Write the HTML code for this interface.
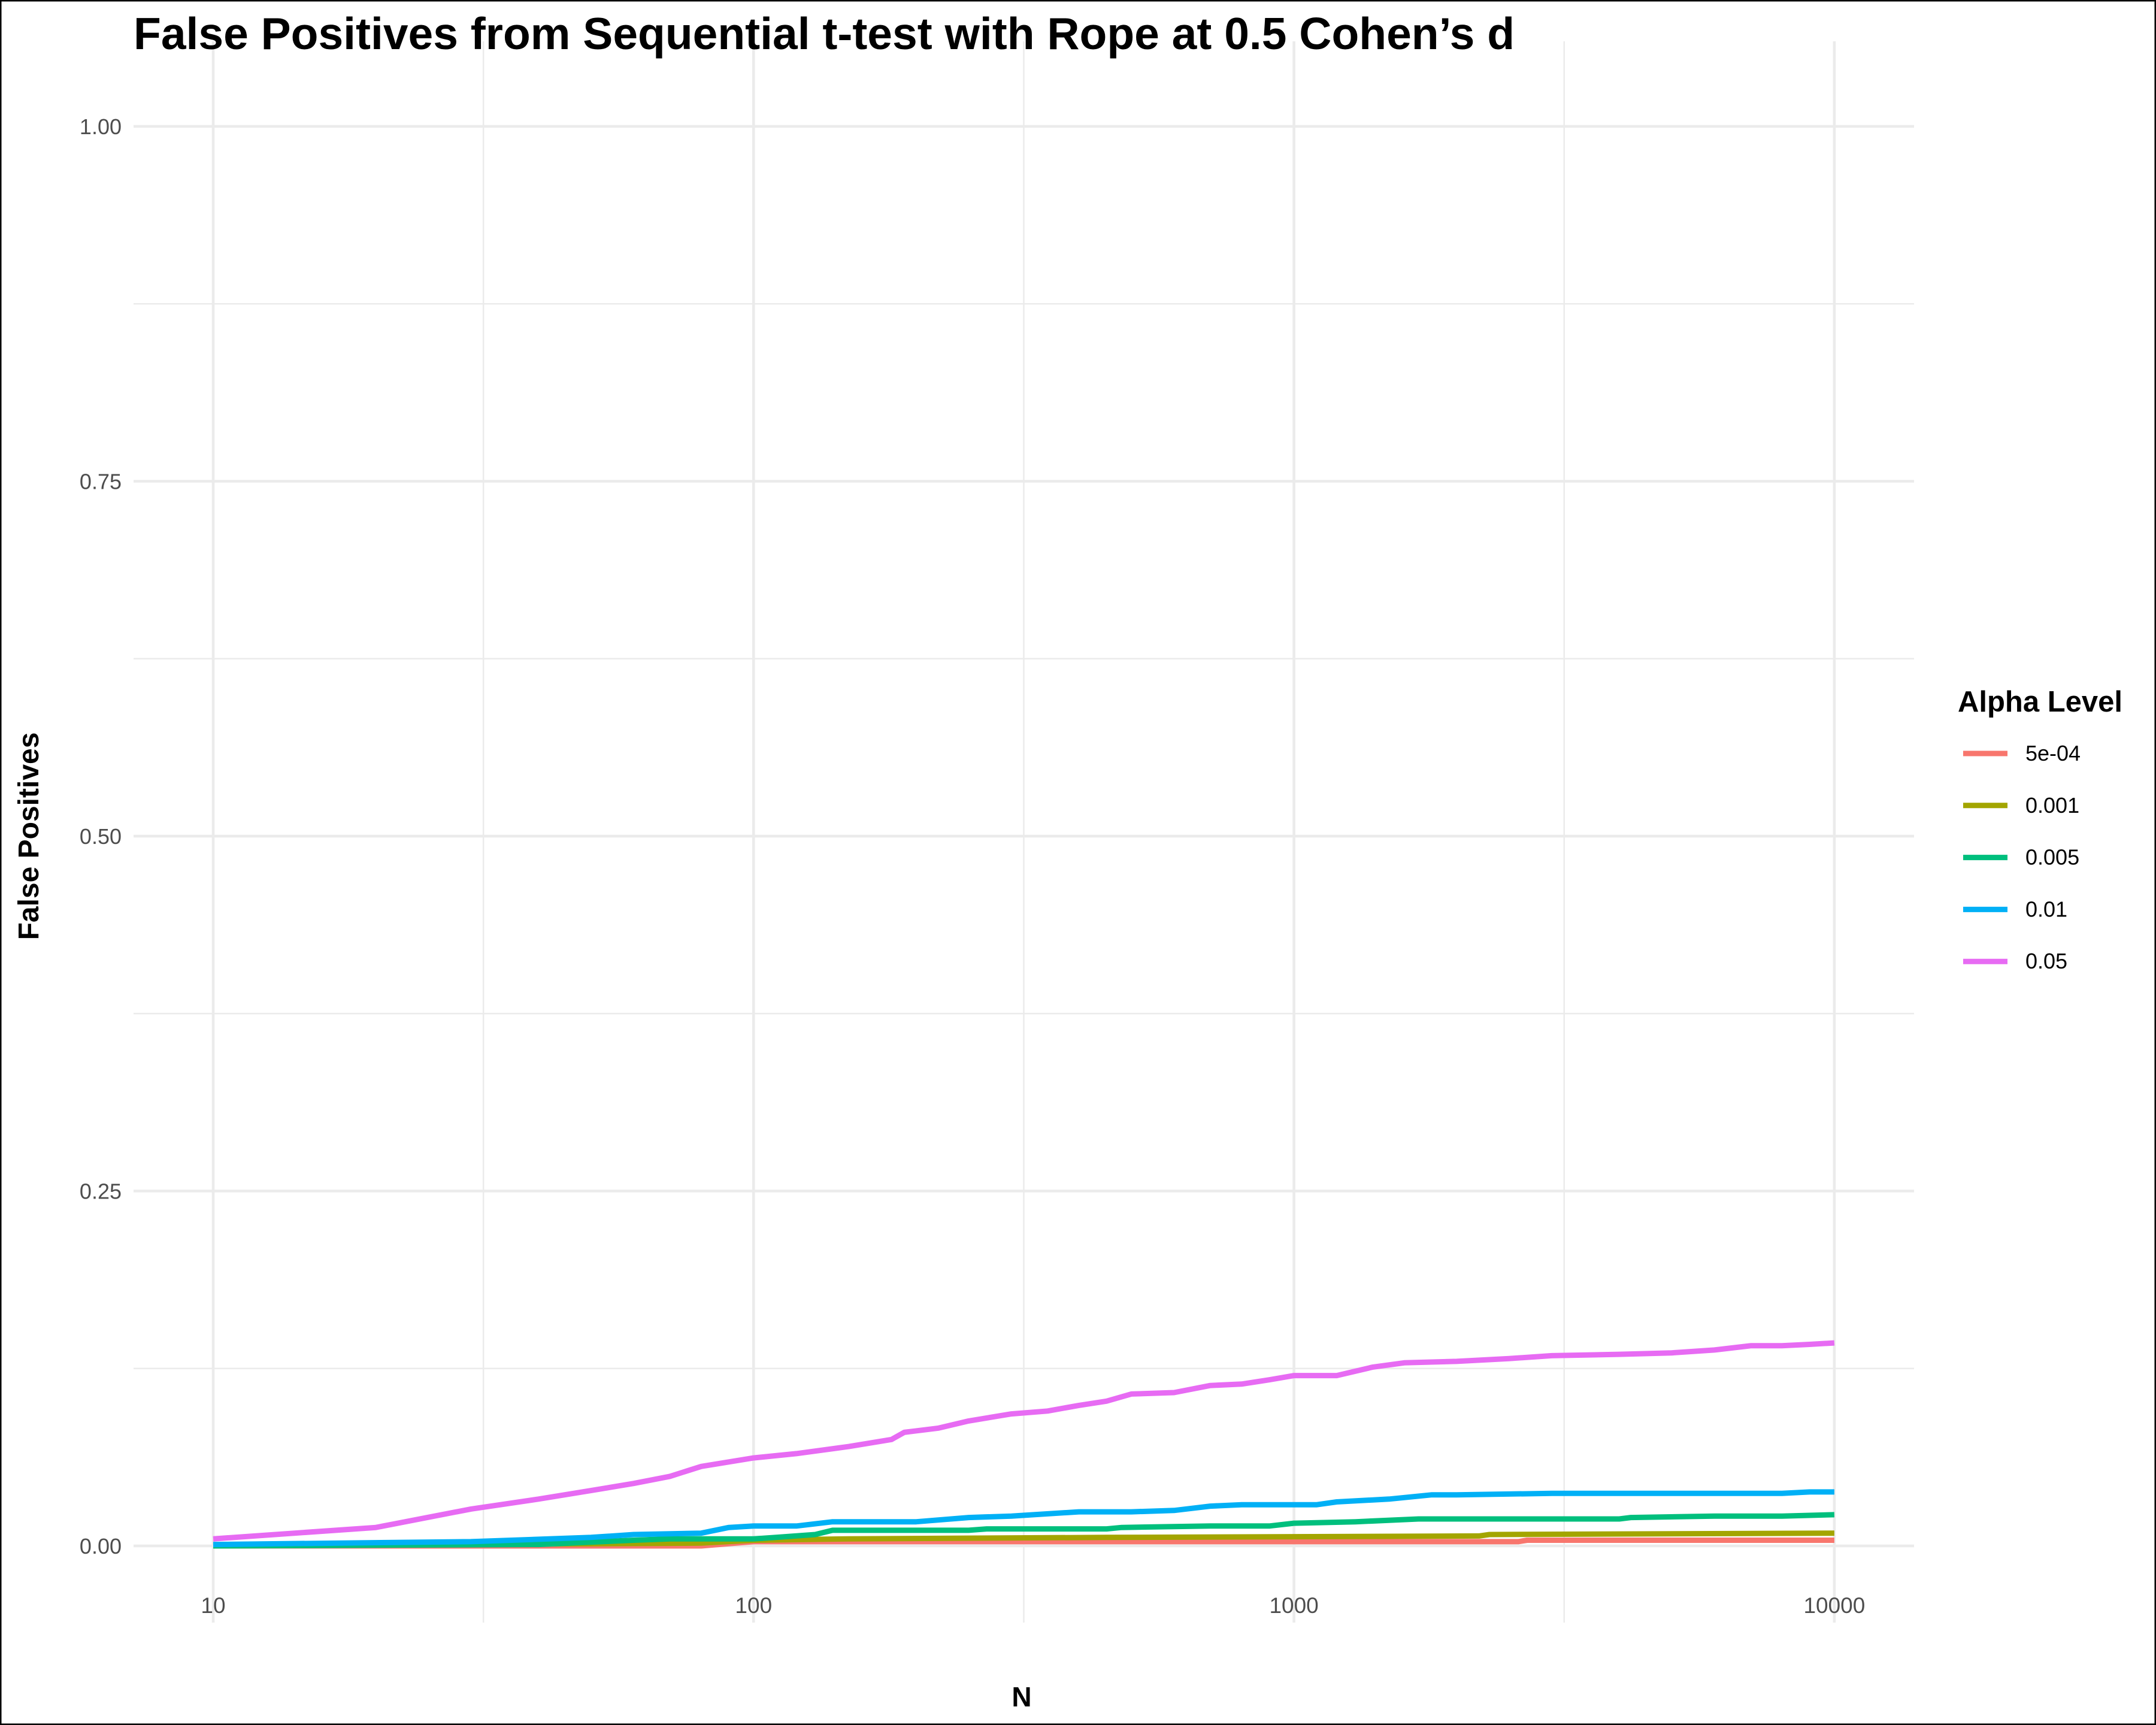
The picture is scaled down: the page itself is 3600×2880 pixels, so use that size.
<!DOCTYPE html>
<html><head><meta charset="utf-8"><style>
html,body{margin:0;padding:0;background:#fff}
svg{display:block}
text{font-family:"Liberation Sans",Arial,sans-serif}
</style></head><body>
<svg id="chart" width="3600" height="2880" viewBox="0 0 3600 2880">
<rect x="1" y="1" width="3598" height="2878" fill="#fff" stroke="#000" stroke-width="3"/>
<g id="grid"></g>
<g id="series"></g>
<g id="axes"></g>
<text x="223" y="82" font-size="75" font-weight="bold" fill="#000">False Positives from Sequential t-test with Rope at 0.5 Cohen’s d</text>
<text x="1706" y="2849" font-size="46" font-weight="bold" text-anchor="middle">N</text>
<text transform="translate(64,1396) rotate(-90)" font-size="48" font-weight="bold" text-anchor="middle">False Positives</text>
<g id="legend">
<text x="3269" y="1188" font-size="49" font-weight="bold">Alpha Level</text>
</g>
</svg>
<script>
const tickX = [10, 100, 1000, 10000];
const tickXLabels = ["10", "100", "1000", "10000"];
const tickY = [0, 0.25, 0.5, 0.75, 1];
const tickYLabels = ["0.00", "0.25", "0.50", "0.75", "1.00"];
const seriesNames = ["5e-04", "0.001", "0.005", "0.01", "0.05"];
const seriesColors = ["#F8766D", "#A3A500", "#00BF7D", "#00B0F6", "#E76BF3"];
const nRed = [10,80,100,2600,2700,10000];
const vRed = [0,0,0.003,0.003,0.004,0.004];
const nOlive = [10,80,100,150,450,2200,2300,10000];
const vOlive = [0,0.002,0.004,0.005,0.006,0.007,0.008,0.009];
const nGreen = [10,40,60,70,100,110,130,140,250,270,450,480,700,900,1000,1300,1700,4000,4200,6000,8000,10000];
const vGreen = [0,0.001,0.004,0.005,0.005,0.006,0.008,0.011,0.011,0.012,0.012,0.013,0.014,0.014,0.016,0.017,0.019,0.019,0.020,0.021,0.021,0.022];
const nBlue = [10,30,50,60,80,90,100,120,140,200,250,300,400,500,600,700,800,1000,1100,1200,1500,1800,2000,3000,8000,9000,10000];
const vBlue = [0.001,0.003,0.006,0.008,0.009,0.013,0.014,0.014,0.017,0.017,0.020,0.021,0.024,0.024,0.025,0.028,0.029,0.029,0.029,0.031,0.033,0.036,0.036,0.037,0.037,0.038,0.038];
const nPink = [10,20,30,40,50,60,70,80,100,120,150,180,190,220,250,300,350,400,450,500,600,700,800,900,1000,1200,1400,1600,2000,2500,3000,4000,5000,6000,7000,8000,9000,10000];
const vPink = [0.005,0.013,0.026,0.033,0.039,0.044,0.049,0.056,0.062,0.065,0.070,0.075,0.080,0.083,0.088,0.093,0.095,0.099,0.102,0.107,0.108,0.113,0.114,0.117,0.120,0.120,0.126,0.129,0.130,0.132,0.134,0.135,0.136,0.138,0.141,0.141,0.142,0.143];
const seriesN = [nRed, nOlive, nGreen, nBlue, nPink];
const seriesV = [vRed, vOlive, vGreen, vBlue, vPink];

const NS = "http://www.w3.org/2000/svg";
const X0 = 356, DEC = 902.3, Y0 = 2581, YS = 2581 - 211;
const PL = 223, PR = 3196, PT = 69, PB = 2709;
function xs(n){ return X0 + Math.log10(n/10)*DEC; }
function ys(v){ return Y0 - v*YS; }
function mk(tag, attrs, parent){ const e=document.createElementNS(NS,tag); for(const k in attrs) e.setAttribute(k,attrs[k]); parent.appendChild(e); return e; }

const grid = document.getElementById("grid");
for (let i=0;i<tickY.length-1;i++){
  const v=(tickY[i]+tickY[i+1])/2;
  const l=mk("line",{x1:PL,x2:PR,y1:ys(v),y2:ys(v),stroke:"#ebebeb","stroke-width":2.5},grid);
  
  
}
for (let i=0;i<tickX.length-1;i++){
  const n=Math.sqrt(tickX[i]*tickX[i+1]);
  const l=mk("line",{x1:xs(n),x2:xs(n),y1:PT,y2:PB,stroke:"#ebebeb","stroke-width":2.5},grid);
  
  
}
const axes = document.getElementById("axes");
tickY.forEach((v,i)=>{
  const l=mk("line",{x1:PL,x2:PR,y1:ys(v),y2:ys(v),stroke:"#ebebeb","stroke-width":4.6},grid);
  
  
  const t=mk("text",{x:203,y:ys(v)+13,"font-size":36,fill:"#4d4d4d","text-anchor":"end"},axes);
  t.textContent=tickYLabels[i];
  
  
});
tickX.forEach((n,i)=>{
  const l=mk("line",{x1:xs(n),x2:xs(n),y1:PT,y2:PB,stroke:"#ebebeb","stroke-width":4.6},grid);
  
  
  const t=mk("text",{x:xs(n),y:2693,"font-size":37,fill:"#4d4d4d","text-anchor":"middle"},axes);
  t.textContent=tickXLabels[i];
  
  
});

const sg = document.getElementById("series");
const lg = document.getElementById("legend");
seriesNames.forEach((name,i)=>{
  const ns=seriesN[i], vs=seriesV[i];
  let d="";
  for(let j=0;j<ns.length;j++){
    d += (j?"L":"M")+xs(ns[j]).toFixed(1)+","+ys(vs[j]).toFixed(1);
  }
  const p=mk("path",{d:d,fill:"none",stroke:seriesColors[i],"stroke-width":9,"stroke-linejoin":"round"},sg);
  
  
  const ly=1258+i*86.8;
  const k=mk("line",{x1:3278,x2:3352,y1:ly,y2:ly,stroke:seriesColors[i],"stroke-width":9},lg);
  
  
  const t=mk("text",{x:3382,y:ly+12,"font-size":36,fill:"#000"},lg);
  t.textContent=name;
  
  
});
</script>
</body></html>
